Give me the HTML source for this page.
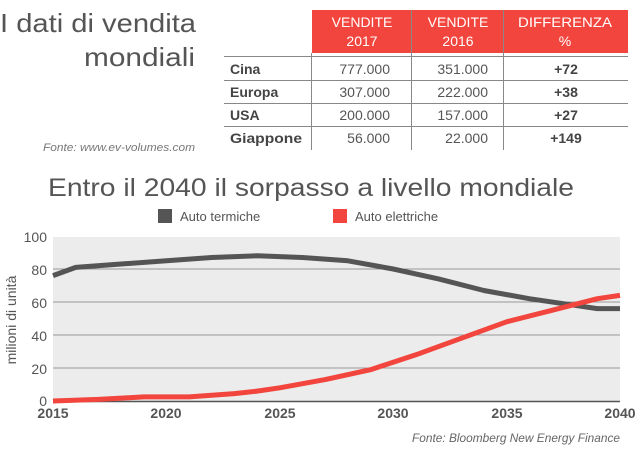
<!DOCTYPE html>
<html><head><meta charset="utf-8"><style>
html,body{margin:0;padding:0;background:#fff;}
svg{display:block;font-family:"Liberation Sans",sans-serif;}
</style></head><body>
<svg width="640" height="457" viewBox="0 0 640 457" xmlns="http://www.w3.org/2000/svg">
<text x="0" y="32" font-size="26" fill="#555" textLength="196" lengthAdjust="spacingAndGlyphs">I dati di vendita</text>
<text x="195" y="66" font-size="26" fill="#555" text-anchor="end" textLength="111" lengthAdjust="spacingAndGlyphs">mondiali</text>
<text x="195" y="151" font-size="11" fill="#777" font-style="italic" text-anchor="end" textLength="152" lengthAdjust="spacingAndGlyphs">Fonte: www.ev-volumes.com</text>
<!-- Table -->
<rect x="312" y="10" width="316" height="43" fill="#f2453d"/>
<g font-size="14" fill="#fff" text-anchor="middle">
<text x="362" y="27">VENDITE</text><text x="362" y="46">2017</text>
<text x="458" y="27">VENDITE</text><text x="458" y="46">2016</text>
<text x="565" y="27" textLength="94" lengthAdjust="spacingAndGlyphs">DIFFERENZA</text><text x="565" y="46">%</text>
</g>
<g stroke="#888" stroke-width="1">
<line x1="224" y1="56.5" x2="628" y2="56.5"/>
<line x1="224" y1="80.5" x2="628" y2="80.5"/>
<line x1="224" y1="103.5" x2="628" y2="103.5"/>
<line x1="224" y1="126.5" x2="628" y2="126.5"/>
<line x1="311.5" y1="53" x2="311.5" y2="150"/>
<line x1="411.5" y1="10" x2="411.5" y2="150"/>
<line x1="503.5" y1="10" x2="503.5" y2="150"/>
</g>
<g font-size="14" fill="#444" font-weight="bold">
<text x="230" y="74">Cina</text>
<text x="230" y="97">Europa</text>
<text x="230" y="120">USA</text>
<text x="230" y="143" textLength="72" lengthAdjust="spacingAndGlyphs">Giappone</text>
</g>
<g font-size="14" fill="#555" text-anchor="end">
<text x="390" y="74">777.000</text><text x="488" y="74">351.000</text>
<text x="390" y="97">307.000</text><text x="488" y="97">222.000</text>
<text x="390" y="120">200.000</text><text x="488" y="120">157.000</text>
<text x="390" y="143">56.000</text><text x="488" y="143">22.000</text>
</g>
<g font-size="14" fill="#444" font-weight="bold" text-anchor="middle">
<text x="566" y="74">+72</text><text x="566" y="97">+38</text><text x="566" y="120">+27</text><text x="566" y="143">+149</text>
</g>
<text x="48" y="196" font-size="25" fill="#555" textLength="526" lengthAdjust="spacingAndGlyphs">Entro il 2040 il sorpasso a livello mondiale</text>
<rect x="158" y="209" width="14" height="14" fill="#555"/>
<text x="180" y="221" font-size="13" fill="#555">Auto termiche</text>
<rect x="333" y="209" width="14" height="14" fill="#f2453d"/>
<text x="355" y="221" font-size="13" fill="#555">Auto elettriche</text>
<rect x="53" y="237" width="567" height="164" fill="#ececec"/>
<g stroke="#999" stroke-width="1">
<line x1="53" y1="269" x2="620" y2="269"/>
<line x1="53" y1="302" x2="620" y2="302"/>
<line x1="53" y1="335" x2="620" y2="335"/>
<line x1="53" y1="368" x2="620" y2="368"/>
</g>
<line x1="53" y1="401.5" x2="620" y2="401.5" stroke="#555" stroke-width="1.5"/>
<g font-size="14" fill="#555" text-anchor="end">
<text x="47" y="242">100</text><text x="47" y="275">80</text><text x="47" y="308">60</text>
<text x="47" y="341">40</text><text x="47" y="374">20</text><text x="47" y="406">0</text>
</g>
<g font-size="14" fill="#555" text-anchor="middle" font-weight="bold">
<text x="53" y="418">2015</text><text x="166" y="418">2020</text><text x="280" y="418">2025</text>
<text x="393" y="418">2030</text><text x="507" y="418">2035</text><text x="620" y="418">2040</text>
</g>
<text transform="translate(16,320) rotate(-90)" font-size="14" fill="#555" text-anchor="middle">milioni di unità</text>
<polyline fill="none" stroke="#555" stroke-width="5" stroke-linejoin="round" points="53,275.6 75.7,267.4 121,264 166.4,260.8 211.8,257.5 257.1,255.8 302.5,257.5 347.8,260.8 393.2,269 438.6,278.9 483.9,290.5 529.3,298.7 574.6,305.3 597.3,308.6 620,308.6"/>
<polyline fill="none" stroke="#f2453d" stroke-width="5" stroke-linejoin="round" points="53,401 98.4,399.4 143.7,396.9 189.1,396.9 234.4,393.6 257.1,391.1 279.8,387.8 325.2,379.6 370.5,369.7 415.9,354.8 461.2,338.3 506.6,321.8 552,310.3 597.3,298.7 620,295.4"/>
<text x="620" y="442" font-size="12" fill="#666" font-style="italic" text-anchor="end" textLength="208" lengthAdjust="spacingAndGlyphs">Fonte: Bloomberg New Energy Finance</text>
</svg>
</body></html>
